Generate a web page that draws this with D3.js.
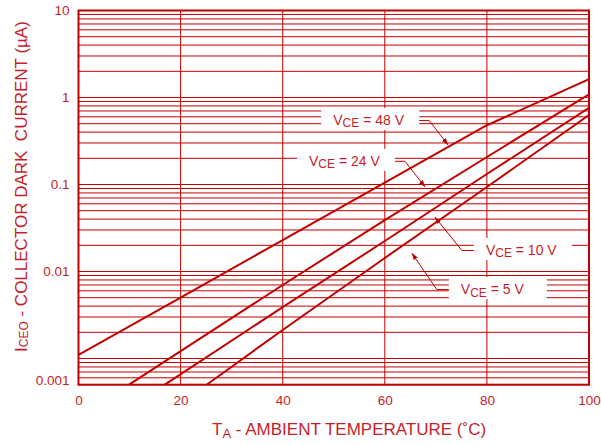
<!DOCTYPE html>
<html><head><meta charset="utf-8">
<script src="https://cdn.jsdelivr.net/npm/d3@7"></script>
<style>
body{margin:0;background:#fff}
text{font-family:"Liberation Sans",Arial,sans-serif}
</style>
</head><body>
<svg id="c" width="601" height="445"></svg>
<script>
// ---- data ----
const temps48 = [0, 20, 40, 60, 80, 100];
const iceo48  = [0.0011, 0.0050, 0.023, 0.105, 0.48, 1.62];
const temps24 = [9.9, 40, 60, 80, 100];
const iceo24  = [0.0005, 0.0070, 0.039, 0.207, 1.09];
const temps10 = [16.9, 40, 60, 80, 100];
const iceo10  = [0.0005, 0.0039, 0.0224, 0.132, 0.76];
const temps5  = [25.1, 40, 60, 80, 100];
const iceo5   = [0.0005, 0.00213, 0.0143, 0.0935, 0.63];
const seriesNames = ["48 V", "24 V", "10 V", "5 V"];
const xTickValues = [0, 20, 40, 60, 80, 100];
const yTickValues = [10, 1, 0.1, 0.01, 0.0005];
const yTickLabels = ["10", "1", "0.1", "0.01", "0.001"];
// annotation anchors (data units): text start, arrow tip
const labelT   = [49.9, 45.15, 79.8, 74.9];
const labelI   = [0.483, 0.164, 0.0155, 0.0055];
const tipT     = [72.4, 67.9, 69.8, 65.3];
const tipI     = [0.284, 0.0936, 0.0423, 0.0163];
const leaderSide = ["right", "right", "left", "left"];

// ---- layout ----
const RED = "#c00000", TXT = "#c41e2a";
const svg = d3.select("#c");
const x = d3.scaleLinear([0, 100], [78.5, 589]);
const y = d3.scaleLog([0.0005, 10], [384.7, 10.5]);

const defs = svg.append("defs");
defs.append("clipPath").attr("id", "plot").append("rect")
  .attr("x", x(0)).attr("y", y(10)).attr("width", x(100) - x(0)).attr("height", y(0.0005) - y(10));
defs.append("marker").attr("id", "arr").attr("viewBox", "0 0 10 10")
  .attr("refX", 10).attr("refY", 5).attr("markerWidth", 7).attr("markerHeight", 7)
  .attr("markerUnits", "userSpaceOnUse").attr("orient", "auto")
  .append("path").attr("d", "M0,1.5L10,5L0,8.5Z").attr("fill", RED);

// grid
const gridVals = [];
for (let d = -4; d <= 1; d++) for (let m = 1; m <= 9; m++) {
  const v = +(m * Math.pow(10, d)).toPrecision(3);
  if (v >= 0.0005 && v <= 10) gridVals.push(v);
}
const grid = svg.append("g");
grid.selectAll("line.h").data(gridVals).join("line")
  .attr("x1", x(0)).attr("x2", x(100)).attr("y1", d => y(d)).attr("y2", d => y(d))
  .attr("stroke", RED).attr("stroke-width", 1);
grid.selectAll("line.v").data([20, 40, 60, 80]).join("line")
  .attr("x1", d => x(d)).attr("x2", d => x(d)).attr("y1", y(10)).attr("y2", y(0.0005))
  .attr("stroke", RED).attr("stroke-width", 1);

// curves
const series = [
  {t: temps48, v: iceo48}, {t: temps24, v: iceo24},
  {t: temps10, v: iceo10}, {t: temps5, v: iceo5}
];
const line = d3.line().x(d => x(d[0])).y(d => y(d[1]));
svg.append("g").attr("clip-path", "url(#plot)")
  .selectAll("path").data(series).join("path")
  .attr("d", s => line(s.t.map((t, i) => [t, s.v[i]])))
  .attr("fill", "none").attr("stroke", RED).attr("stroke-width", 2);

// border
svg.append("rect").attr("x", x(0)).attr("y", y(10))
  .attr("width", x(100) - x(0)).attr("height", y(0.0005) - y(10))
  .attr("fill", "none").attr("stroke", RED).attr("stroke-width", 2);

// annotations
const boxW = 98;
seriesNames.forEach((name, i) => {
  const tx = x(labelT[i]), ty = y(labelI[i]);
  const bx = tx - 12, by = ty - 17;
  svg.append("rect").attr("x", bx).attr("y", by).attr("width", boxW).attr("height", 22).attr("fill", "#fff");
  const t = svg.append("text").attr("x", tx).attr("y", ty).attr("fill", TXT).attr("font-size", 14);
  t.append("tspan").text("V");
  t.append("tspan").attr("font-size", 12).attr("dy", 2.5).text("CE");
  t.append("tspan").attr("dy", -2.5).text(" = " + name);
  const my = ty - 4.5;
  const sx = leaderSide[i] === "right" ? bx + boxW : bx;
  const ex = leaderSide[i] === "right" ? sx + 10 : sx - 12;
  svg.append("path").attr("d", `M${sx},${my}L${ex},${my}L${x(tipT[i])},${y(tipI[i])}`)
    .attr("fill", "none").attr("stroke", RED).attr("stroke-width", 1).attr("marker-end", "url(#arr)");
});

// axes
const xAxis = svg.append("g").attr("transform", `translate(0,${y(0.0005)})`)
  .call(d3.axisBottom(x).tickValues(xTickValues).tickSize(0).tickPadding(11));
xAxis.select(".domain").remove();
xAxis.selectAll("text").attr("fill", TXT).attr("font-size", 13.5).attr("font-family", "Liberation Sans, Arial, sans-serif");

const yAxis = svg.append("g").attr("transform", `translate(${x(0)},0)`)
  .call(d3.axisLeft(y).tickValues(yTickValues).tickFormat((d, i) => yTickLabels[i]).tickSize(0).tickPadding(9));
yAxis.select(".domain").remove();
yAxis.selectAll("text").attr("fill", TXT).attr("font-size", 13.5).attr("font-family", "Liberation Sans, Arial, sans-serif")
  .attr("dy", d => d === 0.0005 ? "-0.02em" : "0.32em");

// axis titles
const xt = svg.append("text").attr("x", 212).attr("y", 435).attr("fill", TXT).attr("font-size", 17);
xt.append("tspan").text("T");
xt.append("tspan").attr("font-size", 13).attr("dy", 3).text("A");
xt.append("tspan").attr("dy", -3).text(" - AMBIENT TEMPERATURE (\u02DAC)");

const yt = svg.append("text").attr("transform", "translate(27,352) rotate(-90)").attr("fill", TXT).attr("font-size", 17);
yt.append("tspan").text("I");
yt.append("tspan").attr("font-size", 12).attr("dy", 1).text("CEO");
yt.append("tspan").attr("dy", -1).attr("xml:space", "preserve").text(" - COLLECTOR DARK\u00A0 CURRENT (\u00B5A)");
</script>
</body></html>
